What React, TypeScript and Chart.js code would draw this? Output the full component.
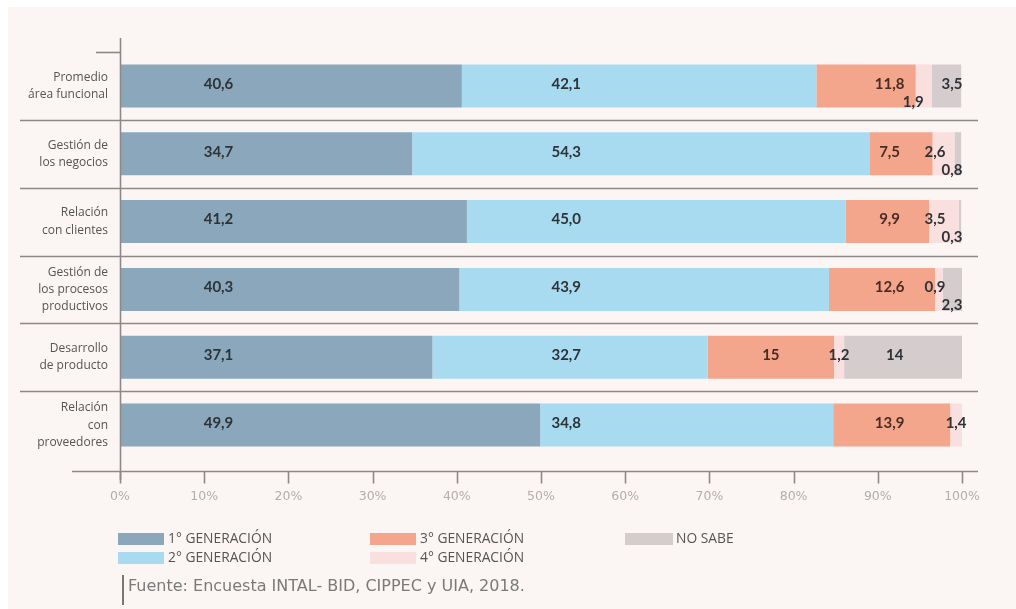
import React, { useEffect, useRef } from "react";
import { Chart, registerables } from "chart.js";

Chart.register(...registerables);

// ---- Data (as printed in the reference) ----
const CATEGORIES: string[][] = [
  ["Promedio", "área funcional"],
  ["Gestión de", "los negocios"],
  ["Relación", "con clientes"],
  ["Gestión de", "los procesos", "productivos"],
  ["Desarrollo", "de producto"],
  ["Relación", "con", "proveedores"],
];
const GEN1 = ["40,6", "34,7", "41,2", "40,3", "37,1", "49,9"];
const GEN2 = ["42,1", "54,3", "45,0", "43,9", "32,7", "34,8"];
const GEN3 = ["11,8", "7,5", "9,9", "12,6", "15", "13,9"];
const GEN4 = ["1,9", "2,6", "3,5", "0,9", "1,2", "1,4"];
const NO_SABE = ["3,5", "0,8", "0,3", "2,3", "14", ""];
const SERIES_NAMES = ["1° GENERACIÓN", "2° GENERACIÓN", "3° GENERACIÓN", "4° GENERACIÓN", "NO SABE"];
const X_MIN = 0;
const X_MAX = 100;
const X_STEP = 10;
const SOURCE = "Fuente: Encuesta INTAL- BID, CIPPEC y UIA, 2018.";

const COLORS = ["#8aa7bb", "#a8dbf0", "#f3a68c", "#fadfdf", "#d5cdcd"];
const LINE = "#8f8888";

const SERIES_TEXT = [GEN1, GEN2, GEN3, GEN4, NO_SABE];
const num = (s: string) => (s === "" ? 0 : parseFloat(s.replace(",", ".")));
const SERIES = SERIES_TEXT.map((arr) => arr.map(num));

const linesPlugin = {
  id: "customLines",
  afterDraw(chart: any) {
    const { ctx, chartArea: ca } = chart;
    const xs = chart.scales.x;
    const ys = chart.scales.y;
    ctx.save();
    ctx.strokeStyle = LINE;
    ctx.lineWidth = 1.6;
    // separators between categories
    for (let i = 1; i < CATEGORIES.length; i++) {
      const y = Math.round((ys.getPixelForValue(i - 1) + ys.getPixelForValue(i)) / 2) + 0.5;
      ctx.beginPath();
      ctx.moveTo(12, y);
      ctx.lineTo(ca.right + 16, y);
      ctx.stroke();
    }
    // short top line
    ctx.beginPath();
    ctx.moveTo(ca.left - 24, ca.top + 0.5);
    ctx.lineTo(ca.left, ca.top + 0.5);
    ctx.stroke();
    // y axis line
    ctx.beginPath();
    ctx.moveTo(ca.left + 0.5, ca.top - 14);
    ctx.lineTo(ca.left + 0.5, ca.bottom + 21);
    ctx.stroke();
    // x axis line
    const ay = ca.bottom + 12.5;
    ctx.beginPath();
    ctx.moveTo(ca.left - 48, ay);
    ctx.lineTo(ca.right + 16, ay);
    ctx.stroke();
    // tick marks
    xs.ticks.forEach((t: any) => {
      const x = Math.round(xs.getPixelForValue(t.value)) + 0.5;
      ctx.beginPath();
      ctx.moveTo(x, ay);
      ctx.lineTo(x, ay + 12);
      ctx.stroke();
    });
    ctx.restore();
  },
};

const labelsPlugin = {
  id: "segLabels",
  afterDatasetsDraw(chart: any) {
    const { ctx } = chart;
    const xs = chart.scales.x;
    const ys = chart.scales.y;
    ctx.save();
    ctx.font = "bold 15px Lato";
    ctx.textAlign = "center";
    ctx.textBaseline = "middle";
    for (let i = 0; i < CATEGORIES.length; i++) {
      let cum = 0;
      let gen4Down = false;
      const yc = ys.getPixelForValue(i);
      for (let d = 0; d < SERIES.length; d++) {
        const v = SERIES[d][i];
        const s = cum;
        const e = cum + v;
        cum = e;
        if (!v) continue;
        let xv = (s + e) / 2;
        let dy = -2;
        if (d === 0) xv = 11.7;
        else if (d === 1) xv = 53;
        else if (d === 2) xv = s <= 91.4 && e >= 94.4 ? 91.4 : (s + e) / 2;
        else if (d === 3) {
          const ns = SERIES[4][i];
          if (ns === 0 || ns > 5) xv = (s + e) / 2;
          else if (e >= 96.6) xv = 96.8;
          else {
            xv = s - 0.3;
            dy = 16;
            gen4Down = true;
          }
        } else if (d === 4) {
          if (v > 5) xv = (s + e) / 2 - 1;
          else {
            xv = 98.8;
            dy = gen4Down ? -2 : 16;
          }
        }
        ctx.fillStyle = d === 2 ? "#4a2c24" : "#2e3338";
        ctx.fillText(SERIES_TEXT[d][i], xs.getPixelForValue(xv), yc + dy);
      }
    }
    ctx.restore();
  },
};

export default function App() {
  const ref = useRef<HTMLCanvasElement | null>(null);
  useEffect(() => {
    if (!ref.current) return;
    const chart = new Chart(ref.current, {
      type: "bar",
      data: {
        labels: CATEGORIES,
        datasets: SERIES.map((data, d) => ({
          label: SERIES_NAMES[d],
          data,
          backgroundColor: COLORS[d],
          borderWidth: 0,
          barPercentage: 0.635,
          categoryPercentage: 1,
        })),
      },
      options: {
        indexAxis: "y",
        animation: false,
        responsive: true,
        maintainAspectRatio: false,
        layout: { padding: { top: 45, right: 54, left: 0, bottom: 0 } },
        plugins: { legend: { display: false }, tooltip: { enabled: false } },
        scales: {
          x: {
            stacked: true,
            min: X_MIN,
            max: X_MAX,
            grid: { display: false, drawTicks: false },
            border: { display: false },
            ticks: {
              stepSize: X_STEP,
              autoSkip: false,
              maxRotation: 0,
              padding: 30,
              color: "#b3adad",
              font: { family: "DejaVu Sans", size: 12.5 },
              callback: (v: any) => v + "%",
            },
            afterFit: (s: any) => {
              s.height = 150;
            },
          },
          y: {
            stacked: true,
            grid: { display: false, drawTicks: false },
            border: { display: false },
            ticks: {
              padding: 12,
              color: "#555",
              font: { family: "Open Sans", size: 12, lineHeight: 1.42 },
            },
            afterFit: (s: any) => {
              s.width = 112;
            },
          },
        },
      },
      plugins: [linesPlugin, labelsPlugin],
    } as any);
    return () => chart.destroy();
  }, []);

  const legendText: React.CSSProperties = {
    position: "absolute",
    fontFamily: "Open Sans",
    fontSize: 13.8,
    color: "#555",
    lineHeight: "16px",
    whiteSpace: "nowrap",
  };
  const items = [
    { box: [110, 526], text: [160, 523], w: 46 },
    { box: [110, 545], text: [160, 542], w: 46 },
    { box: [362, 526], text: [412, 523], w: 46 },
    { box: [362, 545], text: [412, 542], w: 46 },
    { box: [617, 526], text: [668, 523], w: 48 },
  ];

  return (
    <div
      style={{
        position: "fixed",
        left: 8,
        top: 7,
        right: 0,
        bottom: 0,
        background: "#fbf5f3",
        overflow: "hidden",
      }}
    >
      <div style={{ position: "absolute", left: 0, top: 0, width: 1008, height: 602 }}>
        <canvas ref={ref} />
      </div>
      {items.map((it, d) => (
        <React.Fragment key={d}>
          <div
            style={{
              position: "absolute",
              left: it.box[0],
              top: it.box[1],
              width: it.w,
              height: 12,
              background: COLORS[d],
            }}
          />
          <div style={{ ...legendText, left: it.text[0], top: it.text[1] }}>{SERIES_NAMES[d]}</div>
        </React.Fragment>
      ))}
      <div
        style={{
          position: "absolute",
          left: 114,
          top: 568,
          width: 1.5,
          height: 30,
          background: "#777",
        }}
      />
      <div
        style={{
          position: "absolute",
          left: 120,
          top: 569,
          fontFamily: "DejaVu Sans",
          fontSize: 16,
          color: "#7a7a7a",
          lineHeight: "20px",
          whiteSpace: "nowrap",
        }}
      >
        {SOURCE}
      </div>
    </div>
  );
}
